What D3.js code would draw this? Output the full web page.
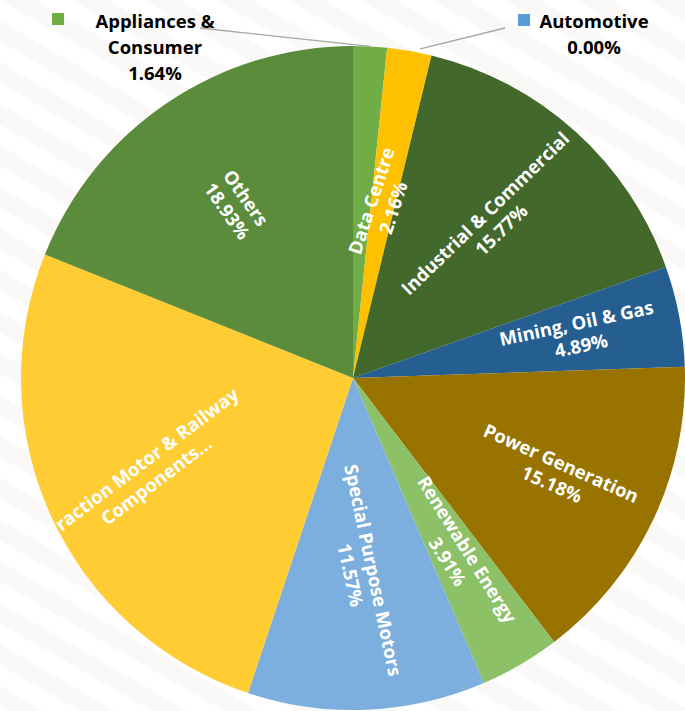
<!DOCTYPE html>
<html lang="en">
<head>
  <meta charset="utf-8" />
  <title>Market Share by Application</title>
  <script src="https://cdn.jsdelivr.net/npm/d3@7"></script>
  <style>
    body { margin: 0; background: #fff; }
    svg { display: block; }
    text { font-family: "Open Sans", sans-serif; font-weight: bold; }
  </style>
</head>
<body>
  <script>
    // data, clockwise from 12 o'clock
    var categories = ["Appliances & Consumer", "Automotive", "Data Centre", "Industrial & Commercial",
      "Mining, Oil & Gas", "Power Generation", "Renewable Energy", "Special Purpose Motors",
      "Traction Motor & Railway Components", "Others"];
    var shares = [1.64, 0.00, 2.16, 15.77, 4.89, 15.18, 3.91, 11.57, 25.95, 18.93];
    var colors = ["#70ad47", "#5b9bd5", "#ffc000", "#43682b", "#255e91", "#997300",
      "#8cc168", "#7cafdd", "#ffcd33", "#5b8c3b"];

    // how each inside label sits (rotation in degrees, distance from centre)
    var inside = {
      "Data Centre": { rot: -72, r: 176, lines: ["Data Centre", "%"] },
      "Industrial & Commercial": { rot: -44, r: 210, lines: ["Industrial & Commercial", "%"] },
      "Mining, Oil & Gas": { rot: -12, r: 230, lines: ["Mining, Oil & Gas", "%"] },
      "Power Generation": { rot: 24, r: 225, lines: ["Power Generation", "%"] },
      "Renewable Energy": { rot: 58, r: 206, lines: ["Renewable Energy", "%"] },
      "Special Purpose Motors": { rot: 78, r: 195, lines: ["Special Purpose Motors", "%"] },
      "Traction Motor & Railway Components": { rot: -37, r: 224, lines: ["Traction Motor & Railway", "Components..."] },
      "Others": { rot: 55, r: 209, lines: ["Others", "%"] }
    };

    var width = 685, height = 711;
    var cx = 353, cy = 378, radius = 332;

    var svg = d3.select("body").append("svg")
      .attr("width", width).attr("height", height);

    // faint striped backdrop
    var pat = svg.append("defs").append("pattern")
      .attr("id", "stripes")
      .attr("patternUnits", "userSpaceOnUse")
      .attr("width", 36).attr("height", 36)
      .attr("patternTransform", "rotate(-60)");
    pat.append("rect").attr("width", 18).attr("height", 36).attr("fill", "#fbf9f8");
    svg.append("rect").attr("width", width).attr("height", height).attr("fill", "#fff");
    svg.append("rect").attr("width", width).attr("height", height).attr("fill", "url(#stripes)");

    var pie = d3.pie().sort(null).value(function(d) { return d; });
    var arcs = pie(shares);
    var arc = d3.arc().innerRadius(0).outerRadius(radius);

    var g = svg.append("g").attr("transform", "translate(" + cx + "," + cy + ")");

    g.selectAll("path.slice")
      .data(arcs)
      .enter().append("path")
      .attr("class", "slice")
      .attr("d", arc)
      .attr("fill", function(d, i) { return colors[i]; });

    // labels inside the slices
    arcs.forEach(function(d, i) {
      var lay = inside[categories[i]];
      if (!lay) return;
      var mid = (d.startAngle + d.endAngle) / 2;
      var x = Math.sin(mid) * lay.r, y = -Math.cos(mid) * lay.r;
      var t = g.append("text")
        .attr("transform", "translate(" + x + "," + y + ") rotate(" + lay.rot + ")")
        .attr("text-anchor", "middle")
        .attr("fill", "#fff")
        .style("font-size", "18.5px");
      var n = lay.lines.length;
      lay.lines.forEach(function(line, k) {
        t.append("tspan")
          .attr("x", 0)
          .attr("y", (k - (n - 1) / 2) * 23 + 6)
          .text(line === "%" ? shares[i].toFixed(2) + "%" : line);
      });
    });

    // outside labels with leader lines for the two thin slices
    function outside(i, tx, lines, leader, key) {
      var lbl = svg.append("g");
      lbl.append("rect")
        .attr("x", key[0]).attr("y", key[1])
        .attr("width", 12).attr("height", 12)
        .attr("fill", colors[i]);
      var t = lbl.append("text")
        .attr("text-anchor", "middle")
        .attr("fill", "#000")
        .style("font-size", "18.5px");
      lines.forEach(function(line, k) {
        t.append("tspan").attr("x", tx).attr("y", 28 + k * 26).text(line);
      });
      lbl.append("polyline")
        .attr("points", leader.map(function(p) { return p.join(","); }).join(" "))
        .attr("fill", "none")
        .attr("stroke", "#a6a6a6")
        .attr("stroke-width", 1.3);
    }

    function edge(i) {
      var mid = (arcs[i].startAngle + arcs[i].endAngle) / 2;
      return [cx + Math.sin(mid) * radius, cy - Math.cos(mid) * radius];
    }

    outside(0, 155, ["Appliances &", "Consumer", shares[0].toFixed(2) + "%"],
      [[200, 28], edge(0)], [52, 13]);
    var e1 = edge(1);
    outside(1, 594, ["Automotive", shares[1].toFixed(2) + "%"],
      [[e1[0] + 33, e1[1] + 1], [505, 28]], [518, 14]);
  </script>
</body>
</html>
